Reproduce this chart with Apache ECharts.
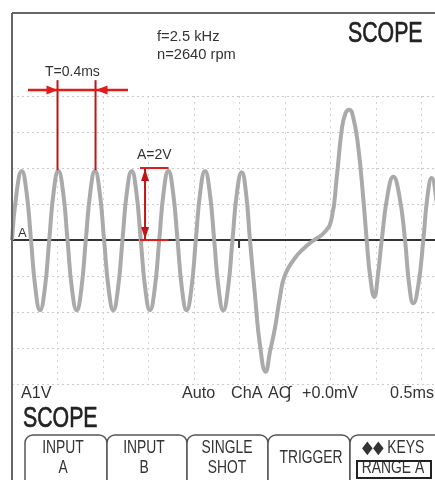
<!DOCTYPE html>
<html>
<head>
<meta charset="utf-8">
<script src="https://cdn.jsdelivr.net/npm/echarts@6/dist/echarts.min.js"></script>
<style>
html,body{margin:0;padding:0;background:#fff;}
#c{width:435px;height:480px;}
</style>
</head>
<body>
<div id="c"></div>
<script>
// ---- data (time in ms, voltage in V) ----
const timeMs = [0, 0.053, 0.107, 0.158, 0.209, 0.259, 0.308, 0.359, 0.409, 0.459,
  0.509, 0.560, 0.610, 0.660, 0.711, 0.761, 0.811, 0.862, 0.912, 0.962,
  1.012, 1.063, 1.113, 1.163, 1.214, 1.264, 1.315, 1.365, 1.415, 1.466,
  1.516, 1.567, 1.618, 1.668, 1.718, 1.768, 1.819, 1.869, 1.919, 1.970,
  2.020, 2.070, 2.121, 2.171, 2.222, 2.272, 2.322, 2.372, 2.423, 2.473,
  2.524, 2.570, 2.615, 2.670, 2.725, 2.788, 2.835, 2.890, 2.945, 3.000,
  3.110, 3.200, 3.293, 3.440, 3.513, 3.568, 3.623, 3.665, 3.707, 3.750,
  3.802, 3.857, 3.898, 3.934, 3.981, 4.022, 4.063, 4.127, 4.190, 4.255,
  4.319, 4.365, 4.410, 4.465, 4.520, 4.566, 4.612, 4.658, 4.703];
const volts = [0, 1.36, 1.92, 1.36, 0, -1.38, -1.95, -1.38, 0, 1.36,
  1.92, 1.36, 0, -1.38, -1.95, -1.38, 0, 1.36, 1.92, 1.36,
  0, -1.38, -1.95, -1.38, 0, 1.36, 1.92, 1.36, 0, -1.38,
  -1.95, -1.38, 0, 1.36, 1.92, 1.36, 0, -1.38, -1.95, -1.38,
  0, 1.36, 1.92, 1.36, 0, -1.38, -1.95, -1.38, 0, 1.34,
  1.88, 1.34, 0, -1.53, -2.92, -3.66, -3.1, -2.44, -1.58, -0.97,
  -0.5, -0.25, -0.05, 0.23, 0.61, 1.72, 3.05, 3.52, 3.62, 3.40,
  2.64, 1.25, 0, -0.97, -1.58, -0.95, 0, 1.25, 1.76, 1.25,
  0, -1.25, -1.76, -1.25, 0, 1.22, 1.72, 1.22, 0];

const xRange = [0, 5];      // ms (10 divisions of 0.5 ms)
const xStep = 0.5;
const yRange = [-4, 4];     // V (8 divisions of 1 V)
const yStep = 1;

// measurement annotations (data coordinates)
const periodMarksT = [0.5, 0.918];
const periodSpanT = [0.176, 1.275];
const periodRowV = 4.17;
const periodTopV = 4.44;
const periodBottomV = 1.94;
const ampMarkT = 1.462;
const ampSpanT = [1.407, 1.72];
const ampLevelsV = [0, 2];
const triggerT = 2.495;

// texts
const freqText = 'f=2.5 kHz';
const rpmText = 'n=2640 rpm';
const periodLabel = 'T=0.4ms';
const ampLabel = 'A=2V';
const statusParts = ['Auto', 'ChA', 'AC', '\u222B', '+0.0mV', '0.5ms'];
const tabLabels = [['INPUT', 'A'], ['INPUT', 'B'], ['SINGLE', 'SHOT'], ['TRIGGER'], ['\u25C6\u25C6 KEYS', 'RANGE A']];

const chart = echarts.init(document.getElementById('c'), null, {renderer: 'canvas'});

const seriesData = timeMs.map((t, i) => [t, volts[i]]);
const SANS = '"Liberation Sans", Arial, sans-serif';

chart.setOption({
  animation: false,
  backgroundColor: '#fff',
  grid: {left: 12, top: 96, width: 455, height: 288, outerBoundsMode: 'none', containLabel: false},
  xAxis: {
    type: 'value', min: xRange[0], max: xRange[1], interval: xStep,
    axisLine: {show: true, onZero: true, lineStyle: {color: '#333', width: 2}},
    axisTick: {show: false}, axisLabel: {show: false},
    splitLine: {show: true, lineStyle: {color: '#d2d2d2', type: [2, 4], width: 1}}
  },
  yAxis: {
    type: 'value', min: yRange[0], max: yRange[1], interval: yStep,
    axisLine: {show: false}, axisTick: {show: false}, axisLabel: {show: false},
    splitLine: {show: true, lineStyle: {color: '#cccccc', type: [2, 3], width: 1}}
  },
  series: [{
    type: 'line', data: seriesData, smooth: 0.5, symbol: 'none', clip: false,
    lineStyle: {color: '#aaaaaa', width: 4}
  }]
});

const px = (t, v) => chart.convertToPixel({gridIndex: 0}, [t, v]);
const g = [];
const RED = '#e41b1b';
const DRED = '#c01515';

// frame
g.push({type: 'line', shape: {x1: 12, y1: 13, x2: 435, y2: 13}, style: {stroke: '#666', lineWidth: 2}, z: 10});
g.push({type: 'line', shape: {x1: 12, y1: 13, x2: 12, y2: 480}, style: {stroke: '#666', lineWidth: 2}, z: 10});

// period measurement
const rowY = px(0, periodRowV)[1];
periodMarksT.forEach(t => {
  const a = px(t, periodTopV), b = px(t, periodBottomV);
  g.push({type: 'line', shape: {x1: a[0], y1: a[1], x2: b[0], y2: b[1]}, style: {stroke: DRED, lineWidth: 2}, z: 20});
});
const sp0 = px(periodSpanT[0], periodRowV), sp1 = px(periodSpanT[1], periodRowV);
g.push({type: 'line', shape: {x1: sp0[0], y1: rowY, x2: sp1[0], y2: rowY}, style: {stroke: RED, lineWidth: 2.5}, z: 20});
const pl = px(periodMarksT[0], periodRowV)[0], pr = px(periodMarksT[1], periodRowV)[0];
g.push({type: 'polygon', shape: {points: [[pl, rowY], [pl - 11, rowY - 4.5], [pl - 11, rowY + 4.5]]}, style: {fill: RED}, z: 21});
g.push({type: 'polygon', shape: {points: [[pr, rowY], [pr + 12, rowY - 4.5], [pr + 12, rowY + 4.5]]}, style: {fill: RED}, z: 21});

// amplitude measurement
const aTop = px(ampMarkT, ampLevelsV[1]), aBot = px(ampMarkT, ampLevelsV[0]);
ampLevelsV.forEach(v => {
  const l = px(ampSpanT[0], v), r = px(ampSpanT[1], v);
  g.push({type: 'line', shape: {x1: l[0], y1: l[1], x2: r[0], y2: r[1]}, style: {stroke: RED, lineWidth: 2}, z: 20});
});
g.push({type: 'line', shape: {x1: aTop[0], y1: aTop[1], x2: aBot[0], y2: aBot[1]}, style: {stroke: DRED, lineWidth: 2}, z: 20});
g.push({type: 'polygon', shape: {points: [[aTop[0], aTop[1] + 1], [aTop[0] - 4, aTop[1] + 13], [aTop[0] + 4, aTop[1] + 13]]}, style: {fill: DRED}, z: 21});
g.push({type: 'polygon', shape: {points: [[aBot[0], aBot[1] - 1], [aBot[0] - 4, aBot[1] - 13], [aBot[0] + 4, aBot[1] - 13]]}, style: {fill: DRED}, z: 21});

// trigger tick
const tr = px(triggerT, 0);
g.push({type: 'line', shape: {x1: tr[0], y1: tr[1], x2: tr[0], y2: tr[1] + 8}, style: {stroke: '#333', lineWidth: 2}, z: 20});

// text helper: y is the vertical centre of the capital letters
function t(text, x, y, size, align, opts) {
  opts = opts || {};
  const el = {type: 'text', x: x, y: y, z: 30, scaleX: opts.sx || 1,
    style: {text: text, font: (opts.bold ? 'bold ' : '') + size + 'px ' + SANS, fill: opts.color || '#333',
      align: align || 'left', verticalAlign: 'middle'}};
  if (opts.stroke) { el.style.stroke = opts.color || '#333'; el.style.lineWidth = opts.stroke; }
  g.push(el);
}

t(freqText, 157, 37, 14, 'left', {sx: 1.05});
t(rpmText, 157, 55, 14, 'left', {sx: 1.05});
t('SCOPE', 348, 34, 30, 'left', {sx: 0.71, color: '#222', stroke: 0.7});
t(periodLabel, 45, 72, 14, 'left');
t(ampLabel, 137, 155, 14, 'left');
t('A', 18, 233, 13, 'left');

t('A1V', 21, 393, 17, 'left', {sx: 0.95});
const statusX = [182, 231, 268, 287, 302, 390];
statusParts.forEach((s, i) => t(s, statusX[i], 393, 17, 'left', {sx: 0.95}));
t('SCOPE', 23, 419, 30, 'left', {sx: 0.71, color: '#222', stroke: 0.7});

// tabs
const tabX = [25, 107, 187, 268, 350];
const tabW = [82, 80, 81, 82, 95];
tabX.forEach((x, i) => {
  g.push({type: 'rect', shape: {x: x, y: 435, width: tabW[i], height: 60, r: [8, 8, 0, 0]},
    style: {fill: '#fff', stroke: '#555', lineWidth: 1.5}, z: 25});
});
const tabCx = [63, 144, 227, 311, 393];
tabLabels.forEach((lbl, i) => {
  if (lbl.length === 1) {
    t(lbl[0], tabCx[i], 458, 18, 'center', {sx: 0.77});
  } else {
    t(lbl[0], tabCx[i], 448, 18, 'center', {sx: 0.77});
    t(lbl[1], tabCx[i], 468, 18, 'center', {sx: 0.77});
  }
});
g.push({type: 'rect', shape: {x: 357, y: 461, width: 74, height: 17}, style: {fill: 'none', stroke: '#222', lineWidth: 2}, z: 31});

chart.setOption({graphic: g});
</script>
</body>
</html>
